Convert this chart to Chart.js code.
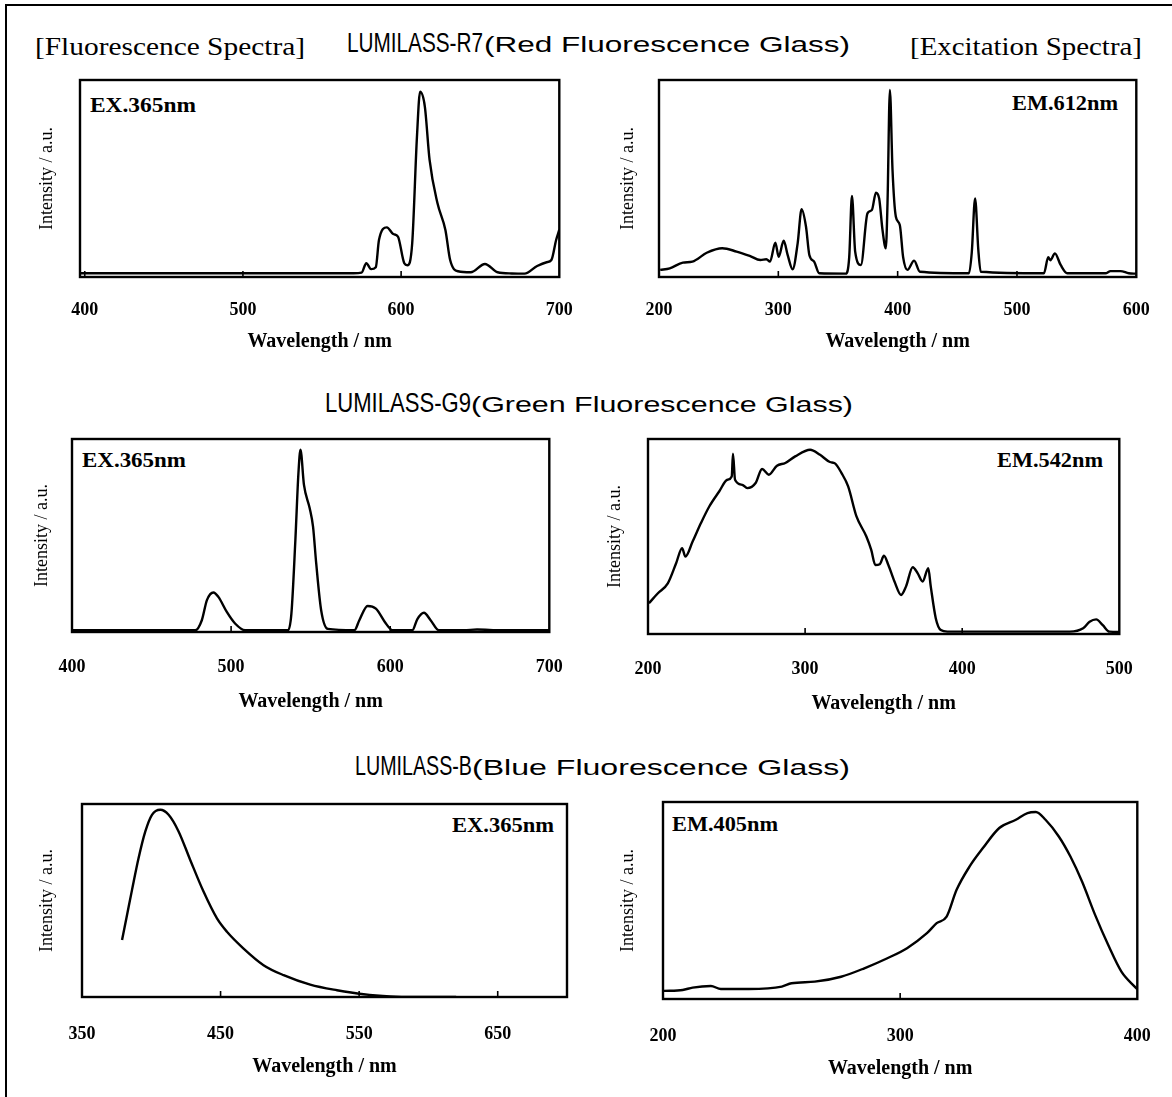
<!DOCTYPE html>
<html>
<head>
<meta charset="utf-8">
<script src="https://cdn.jsdelivr.net/npm/chart.js@4.4.1/dist/chart.umd.min.js"></script>
<style>
  html, body { margin:0; padding:0; background:#fff; }
  body { width:1172px; height:1097px; position:relative; overflow:hidden; }
  canvas { position:absolute; }
  .frame { position:absolute; background:#000; }
</style>
</head>
<body>
<div class="frame" style="left:5px;top:4px;width:1167px;height:2px;"></div>
<div class="frame" style="left:5px;top:4px;width:2px;height:1093px;"></div>
<script>
// ---------------- DATA ----------------
// LUMILASS-R7 fluorescence (EX.365nm)
const r7FluoWl  = [397, 450, 500, 540, 570, 575, 578, 581, 584, 586, 591, 595, 598, 602, 604, 607, 610, 612, 615, 618, 623, 628, 631, 636, 644, 653, 661, 670, 678, 686, 692, 695, 698, 700];
const r7FluoInt = [1.9, 1.9, 1.9, 1.9, 1.9, 2.2, 7, 4, 5, 18.8, 25.2, 21.8, 20.5, 7, 6, 17, 71, 94, 86.5, 59.4, 37.4, 23.9, 8.6, 2.9, 2.4, 6.6, 2.4, 1.8, 1.7, 5.6, 7.5, 8.6, 18.8, 24];
// LUMILASS-R7 excitation (EM.612nm)
const r7ExcWl  = [201, 209, 220, 228, 240, 253, 265, 276, 285, 290, 293, 297.5, 300.3, 304.5, 307.8, 312, 316.2, 319.5, 323.2, 326, 330, 334.3, 356.6, 359.4, 361.7, 364.4, 369.2, 374.7, 378.4, 381.8, 384.5, 387.3, 390.1, 391.5, 393.5, 395.7, 398.5, 401.8, 404.6, 408.2, 413.8, 418.6, 459.8, 462.1, 464.9, 467.6, 469.6, 522.6, 526.2, 528, 531.8, 536.6, 542.1, 574.2, 578.4, 586.8, 593.7, 600];
const r7ExcInt = [3.6, 4.4, 7.3, 7.8, 12.3, 14.6, 12.9, 10.7, 8.6, 9, 7.8, 17.4, 10.3, 18.4, 11.2, 3.9, 17.1, 34.4, 25.5, 11.2, 7.8, 1.9, 1.7, 10, 41.1, 12.9, 6.1, 32.3, 34, 42.8, 39.9, 23.9, 14.6, 37.4, 94.9, 54.3, 30.6, 26.4, 10, 3.6, 8.3, 2.7, 1.9, 12.3, 39.9, 13.8, 2.7, 1.9, 10, 8.5, 12, 6.1, 1.9, 1.9, 3, 3, 1.9, 1.7];
// LUMILASS-G9 fluorescence (EX.365nm)
const g9FluoWl  = [400, 477.5, 481.6, 484.8, 488.9, 492, 497.3, 502.5, 508.8, 535.8, 537.9, 540.4, 542.3, 543.6, 545.8, 549.4, 551.5, 553.5, 556.6, 560.8, 577.5, 580.6, 585.8, 591, 597.3, 601.4, 613.9, 617, 621.2, 625.4, 630.6, 646.3, 654.6, 670, 700];
const g9FluoInt = [0.9, 0.9, 6.1, 16.5, 20.5, 18.2, 10.4, 4.4, 0.9, 0.9, 9.5, 47.7, 82, 94.4, 76.2, 64.1, 54.6, 35.5, 11.3, 1.6, 0.9, 6.1, 13.5, 12.1, 4.4, 0.9, 0.9, 6.6, 10, 6.1, 0.9, 0.9, 1.3, 0.9, 0.9];
// LUMILASS-G9 excitation (EM.542nm)
const g9ExcWl  = [200.6, 206.3, 212.6, 217.9, 221.7, 223.8, 228.4, 233.7, 239, 245.3, 250.5, 253.3, 254.1, 255.4, 260, 263.2, 268.5, 272.6, 276.9, 282.1, 287.4, 293.7, 303.2, 309.5, 315.8, 319, 323.2, 327.4, 332.7, 339, 342.1, 344.7, 347.5, 350.2, 353, 356.9, 361.1, 364.2, 368.5, 371.6, 374.8, 378.4, 380, 383.2, 386.4, 390.6, 468.5, 477, 481.1, 485.3, 489.5, 493.7, 500];
const g9ExcInt = [15.8, 20.9, 26, 36.3, 44, 39.7, 47.4, 56.9, 65.4, 73.1, 79.1, 80.8, 92.5, 79.1, 76.5, 74.8, 77.4, 84.6, 81.7, 86.3, 87.7, 91.1, 94.5, 91.9, 88.2, 87.5, 82.5, 75.7, 60.3, 50, 43.1, 35.4, 35.8, 40.1, 35.4, 26.9, 20, 24.3, 34.2, 31.2, 26.9, 33.7, 24.3, 8, 2, 1.2, 1.2, 2.9, 6.3, 7.5, 4.5, 1.2, 1];
// LUMILASS-B fluorescence (EX.365nm)
const bFluoWl  = [378.9, 382.5, 386.1, 390.8, 395.7, 400.5, 406.5, 412.5, 419.7, 428.1, 437.7, 447.4, 454.6, 466.6, 481, 495.5, 514.7, 534, 553.2, 572.4, 589.3, 620];
const bFluoInt = [29.5, 42.5, 55.5, 71.9, 85.8, 94.4, 97, 94.4, 85.8, 71, 54.6, 40.7, 33.8, 25.1, 16.5, 11.3, 6.4, 3.5, 1.4, 0.3, 0, 0];
// LUMILASS-B excitation (EM.405nm)
const bExcWl  = [200.3, 208.3, 212.5, 220.2, 224.4, 236.2, 250.1, 254.2, 264, 275.1, 284.9, 294.6, 302.9, 311.3, 315.4, 319.6, 323.8, 329.3, 334.9, 341.8, 348.8, 353.7, 357.2, 361.3, 366.9, 371.8, 376.7, 382.2, 387.7, 393.3, 398.9, 400];
const bExcInt = [4.1, 4.6, 5.8, 6.6, 5.1, 5.1, 6.3, 8, 8.8, 11.3, 15.6, 20.7, 25.8, 33.4, 38.5, 41.8, 55.4, 67.3, 76.6, 86.8, 91, 94.4, 94.9, 91, 82.5, 72.3, 59.6, 42.7, 27.5, 13.9, 6.3, 5];

// tick labels
const ticks400to700 = [400, 500, 600, 700];
const ticks200to600 = [200, 300, 400, 500, 600];
const ticks200to500 = [200, 300, 400, 500];
const ticks350to650 = [350, 450, 550, 650];
const ticks200to400 = [200, 300, 400];

// ---------------- TEXT ----------------
const SERIF = '"Liberation Serif", "Times New Roman", serif';
const SANS = '"Liberation Sans", Arial, sans-serif';
function label(text, family, size, weight, left, baseline, width) {
  const d = document.createElement('div');
  d.textContent = text;
  d.style.cssText = 'position:absolute;white-space:nowrap;transform-origin:0 0;color:#000;' +
    'font-family:' + family + ';font-size:' + size + 'px;font-weight:' + weight + ';line-height:' + size + 'px;left:' + left + 'px;';
  document.body.appendChild(d);
  const k = family === SANS ? 0.8465 : 0.8375;
  d.style.top = (baseline - k * size) + 'px';
  if (width) {
    const w = d.getBoundingClientRect().width;
    d.style.transform = 'scaleX(' + (width / w) + ')';
  }
}
label('[Fluorescence Spectra]', SERIF, 26, 'normal', 35, 56, 270);
label('[Excitation Spectra]', SERIF, 26, 'normal', 910, 56, 232);
label('LUMILASS-R7', SANS, 27, 'normal', 347, 53, 136);
label('(Red Fluorescence Glass)', SANS, 22, 'normal', 484, 53, 366);
label('LUMILASS-G9', SANS, 27, 'normal', 325, 413, 146);
label('(Green Fluorescence Glass)', SANS, 22, 'normal', 471, 413, 382);
label('LUMILASS-B', SANS, 27, 'normal', 355, 776, 117);
label('(Blue Fluorescence Glass)', SANS, 22, 'normal', 472, 776, 378);

label('EX.365nm', SERIF, 20, 'bold', 90, 112, 106);
label('EM.612nm', SERIF, 20, 'bold', 1012, 110, 106);
label('EX.365nm', SERIF, 20, 'bold', 82, 467, 104);
label('EM.542nm', SERIF, 20, 'bold', 997, 467, 106);
label('EX.365nm', SERIF, 20, 'bold', 452, 832, 102);
label('EM.405nm', SERIF, 20, 'bold', 672, 831, 106);

// ---------------- CHARTS ----------------
const boxPlugin = {
  id: 'boxFrame',
  afterDraw(chart) {
    const {ctx, chartArea: {left, top, right, bottom}} = chart;
    ctx.save();
    ctx.strokeStyle = '#000';
    ctx.lineWidth = 2.4;
    ctx.strokeRect(left, top, right - left, bottom - top);
    const xs = chart.scales.x;
    ctx.lineWidth = 1.6;
    xs.ticks.forEach(t => {
      const px = xs.getPixelForValue(t.value);
      if (px > left + 4 && px < right - 4) {
        ctx.beginPath(); ctx.moveTo(px, bottom); ctx.lineTo(px, bottom - 6); ctx.stroke();
      }
    });
    ctx.restore();
  }
};

const YW = 60, PADR = 34, PADT = 3, XH = 92;
const TICK_FONT = 18, XT_FONT = 20, YT_FONT = 18;

function panel(box, xMin, xMax, tickVals, wl, inten, yOff, tickOff, titleOff) {
  const c = document.createElement('canvas');
  const w = YW + (box.r - box.l) + PADR;
  const h = PADT + (box.b - box.t) + XH;
  c.width = w; c.height = h;
  c.style.left = (box.l - YW) + 'px';
  c.style.top = (box.t - PADT) + 'px';
  c.style.width = w + 'px'; c.style.height = h + 'px';
  document.body.appendChild(c);
  const pts = wl.map((x, i) => ({x: x, y: inten[i]}));
  new Chart(c, {
    type: 'line',
    data: { datasets: [{ data: pts, borderColor: '#000', borderWidth: 2.4, pointRadius: 0, fill: false, cubicInterpolationMode: 'monotone' }] },
    options: {
      responsive: false, maintainAspectRatio: false, animation: false, devicePixelRatio: 1,
      layout: { padding: { left: 0, right: PADR, top: PADT, bottom: 0 } },
      plugins: { legend: { display: false }, tooltip: { enabled: false } },
      scales: {
        x: {
          type: 'linear', position: 'bottom', min: xMin, max: xMax,
          afterBuildTicks: s => { s.ticks = tickVals.map(v => ({value: v})); },
          afterFit: s => { s.height = XH; },
          grid: { display: false, drawTicks: false },
          border: { display: false },
          ticks: { color: '#000', font: { family: SERIF, size: TICK_FONT, weight: 'bold' }, padding: tickOff - TICK_FONT * 0.6, maxRotation: 0, autoSkip: false, callback: v => String(v) },
          title: { display: true, text: 'Wavelength / nm', color: '#000', font: { family: SERIF, size: XT_FONT, weight: 'bold' }, padding: { top: 0, bottom: XH - titleOff - XT_FONT * 0.6 } }
        },
        y: {
          position: 'left', min: 0, max: 100,
          afterFit: s => { s.width = YW; },
          grid: { display: false, drawTicks: false },
          border: { display: false },
          ticks: { display: false },
          title: { display: true, text: 'Intensity / a.u.', color: '#000', font: { family: SERIF, size: YT_FONT, weight: 'normal' }, padding: { top: YW - yOff - YT_FONT * 0.6, bottom: 0 } }
        }
      }
    },
    plugins: [boxPlugin]
  });
}

panel({l: 80, t: 80, r: 561, b: 277}, 397, 700, ticks400to700, r7FluoWl, r7FluoInt, 33, 33, 65);
panel({l: 659, t: 80, r: 1138, b: 277}, 200, 600, ticks200to600, r7ExcWl, r7ExcInt, 31, 33, 65);
panel({l: 72, t: 439, r: 553, b: 632}, 400, 700, ticks400to700, g9FluoWl, g9FluoInt, 30, 35, 70);
panel({l: 648, t: 439, r: 1123, b: 634}, 200, 500, ticks200to500, g9ExcWl, g9ExcInt, 33, 35, 70);
panel({l: 82, t: 804, r: 567, b: 997}, 350, 700, ticks350to650, bFluoWl, bFluoInt, 35, 37, 70);
panel({l: 663, t: 802, r: 1143, b: 999}, 200, 400, ticks200to400, bExcWl, bExcInt, 35, 37, 70);
</script>
</body>
</html>
